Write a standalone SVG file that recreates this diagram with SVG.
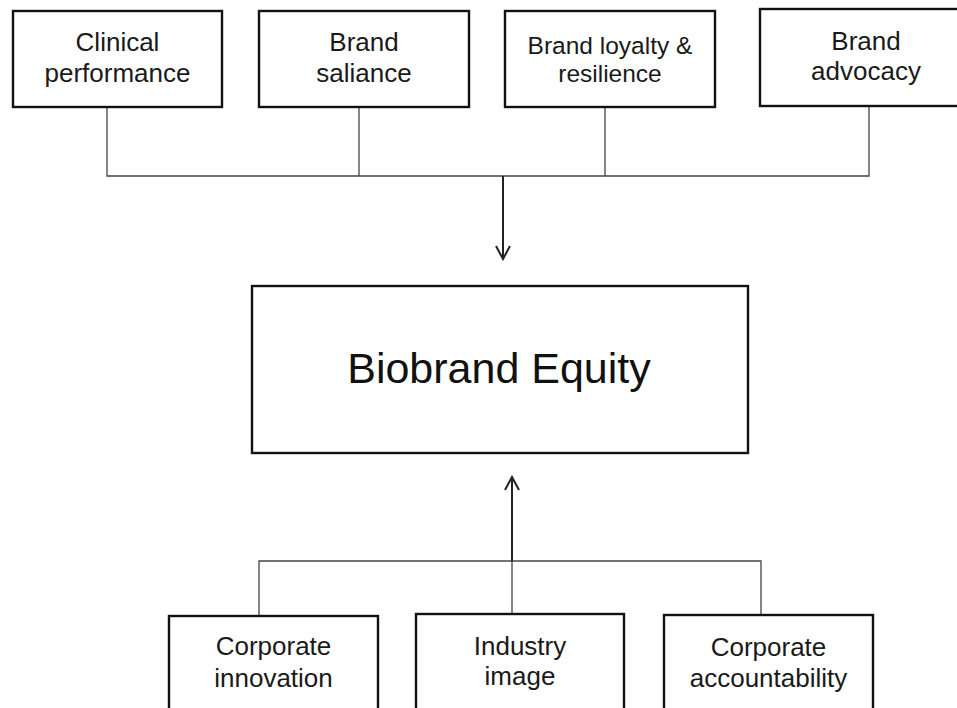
<svg xmlns="http://www.w3.org/2000/svg" width="957" height="708" viewBox="0 0 957 708">
<defs>
<style>
.box{fill:#fff;stroke:#111;stroke-width:2.4}
.lbl{font-family:"Liberation Sans",Arial,sans-serif;font-size:26px;fill:#1a1a1a;text-anchor:middle}
.big{font-family:"Liberation Sans",Arial,sans-serif;font-size:43px;fill:#111;text-anchor:middle}
.conn{fill:none;stroke:#444;stroke-width:1.3}
.arr{fill:none;stroke:#222;stroke-width:2}
</style>
<marker id="ah" viewBox="0 0 16 16" refX="14" refY="8" markerWidth="16" markerHeight="16" markerUnits="userSpaceOnUse" orient="auto">
<path d="M1,1 L14,8 L1,15" fill="none" stroke="#222" stroke-width="2"/>
</marker>
</defs>
<rect width="957" height="708" fill="#fff"/>
<g id="connectors">
<path class="conn" d="M107,107 V176 H869 V106"/>
<path class="conn" d="M359,107 V176"/>
<path class="conn" d="M605,107 V176"/>
<path class="arr" d="M503,176 V259" marker-end="url(#ah)"/>
<path class="conn" d="M259,616 V561 H761 V615"/>
<path class="conn" d="M512,614 V561"/>
<path class="arr" d="M512,561 V477" marker-end="url(#ah)"/>
</g>
<g id="clinical">
<rect class="box" x="13" y="11" width="209" height="96"/>
<text class="lbl" x="117.5" y="51">Clinical</text>
<text class="lbl" x="117.5" y="82">performance</text>
</g>
<g id="saliance">
<rect class="box" x="259" y="11" width="210" height="96"/>
<text class="lbl" x="364" y="51">Brand</text>
<text class="lbl" x="364" y="82">saliance</text>
</g>
<g id="loyalty">
<rect class="box" x="505" y="11" width="210" height="96"/>
<text class="lbl" x="610" y="54" style="font-size:24.5px">Brand loyalty &amp;</text>
<text class="lbl" x="610" y="82" style="font-size:24.5px">resilience</text>
</g>
<g id="advocacy">
<rect class="box" x="760" y="9" width="211" height="97"/>
<text class="lbl" x="866" y="50">Brand</text>
<text class="lbl" x="866" y="80">advocacy</text>
</g>
<g id="equity">
<rect class="box" x="252" y="286" width="496" height="167"/>
<text class="big" x="499" y="383">Biobrand Equity</text>
</g>
<g id="innovation">
<rect class="box" x="169" y="616" width="209" height="100"/>
<text class="lbl" x="273.5" y="655">Corporate</text>
<text class="lbl" x="273.5" y="687">innovation</text>
</g>
<g id="industry">
<rect class="box" x="416" y="614" width="208" height="102"/>
<text class="lbl" x="520" y="655">Industry</text>
<text class="lbl" x="520" y="685">image</text>
</g>
<g id="accountability">
<rect class="box" x="664" y="615" width="209" height="101"/>
<text class="lbl" x="768.5" y="656">Corporate</text>
<text class="lbl" x="768.5" y="687">accountability</text>
</g>
</svg>
